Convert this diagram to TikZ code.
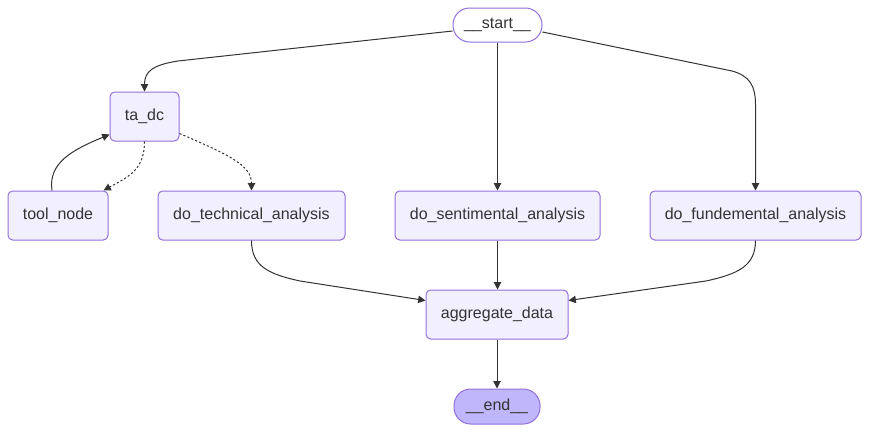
\documentclass[tikz,border=0pt]{standalone}
\usepackage{fontspec}
\setmainfont{Liberation Sans}
\usetikzlibrary{arrows.meta,calc}
\definecolor{bx}{HTML}{F2F0FF}
\definecolor{bd}{HTML}{9370DB}
\definecolor{lastfill}{HTML}{BFB6FC}
\definecolor{ink}{HTML}{333333}
\tikzset{
  box/.style={draw=bd, fill=bx, line width=0.75pt, rounded corners=3.5pt, inner sep=0pt,
    minimum height=36.75pt, text=ink, font=\fontsize{12}{14}\selectfont},
  pill/.style={box, rounded corners=12.5pt, minimum height=25.5pt},
  edge/.style={draw=ink, line width=0.75pt, -{Triangle[length=5.5pt,width=5.5pt]}},
  dedge/.style={edge, dash pattern=on 1.6pt off 1.6pt}
}
\begin{document}
\begin{tikzpicture}[x=0.75pt,y=-0.75pt]
\useasboundingbox (0,0) rectangle (870,432);
\node[pill, fill=white, minimum width=66.75pt] (start) at (497.5,25) {\_\_start\_\_};
\node[box, minimum width=51.75pt] (tadc) at (144.5,116.5) {ta\_dc};
\node[box, minimum width=75pt] (tool) at (58,215.5) {tool\_node};
\node[box, minimum width=140.25pt] (tech) at (251.5,215.5) {do\_technical\_analysis};
\node[box, minimum width=153.75pt] (sent) at (497.5,215.5) {do\_sentimental\_analysis};
\node[box, minimum width=158.25pt] (fund) at (755.5,215.5) {do\_fundemental\_analysis};
\node[box, minimum width=106.5pt] (agg) at (497,314.5) {aggregate\_data};
\node[pill, fill=lastfill, minimum width=64.5pt, minimum height=26.25pt] (end) at (497,406.5) {\_\_end\_\_};

% start -> ta_dc
\draw[edge] ($(start.west)+(0,6)$) -- (178,61) .. controls (152,65) and (144.5,72) .. (tadc.north);
% start -> sentimental
\draw[edge] (start.south) -- (start.south |- sent.north);
% start -> fundemental
\draw[edge] ($(start.east)+(0,7)$) -- (732,71) .. controls (750,76) and (755.5,86) .. (755.5,105) -- (fund.north);
% ta_dc -> tool_node (dashed)
\draw[dedge] (tadc.south) .. controls (144.5,170) and (128,177) .. ($(tool.north east)+(-5,0)$);
% tool_node -> ta_dc
\draw[edge] ($(tool.north)+(-6,0)$) .. controls (48,163) and (72,150) .. ($(tadc.south west)+(0,-7)$);
% ta_dc -> technical (dashed)
\draw[dedge] ($(tadc.east)+(0,17)$) .. controls (232,156) and (251.5,166) .. (tech.north);
% technical -> aggregate
\draw[edge] (tech.south) .. controls (251.5,266) and (268,274) .. (300,281) -- ($(agg.west)+(0,-14)$);
% sentimental -> aggregate
\draw[edge] (sent.south) -- (sent.south |- agg.north);
% fundemental -> aggregate
\draw[edge] (fund.south) .. controls (755.5,266) and (738,274) .. (706,281) -- ($(agg.east)+(0,-14)$);
% aggregate -> end
\draw[edge] (agg.south) -- (end.north);
\end{tikzpicture}
\end{document}
